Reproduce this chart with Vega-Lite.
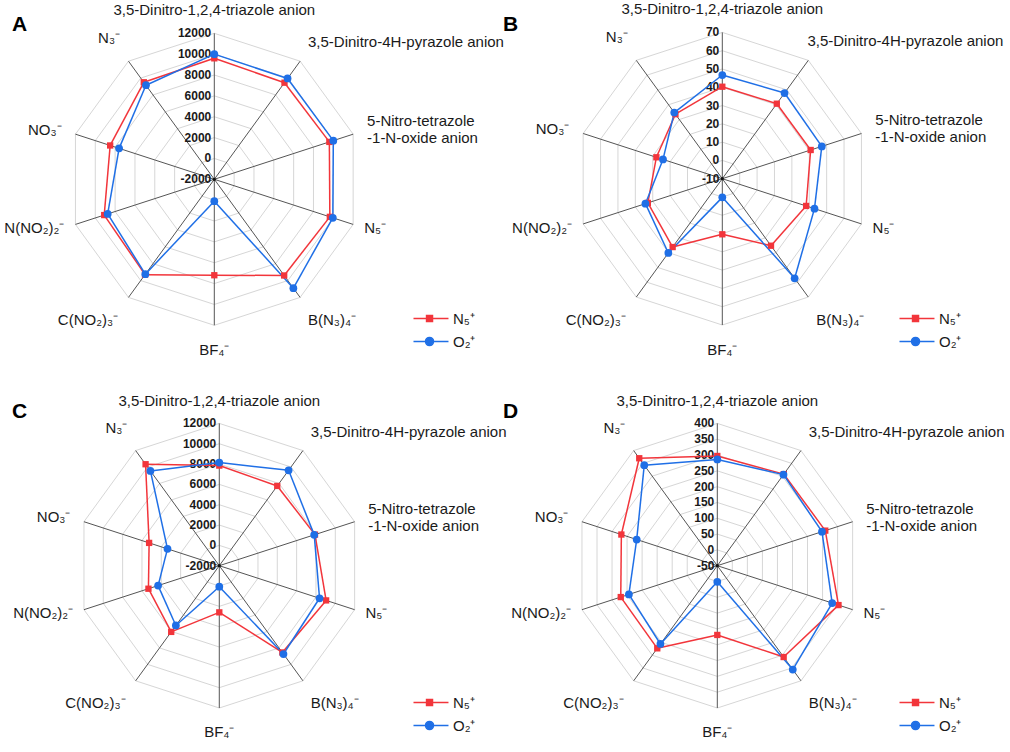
{
"$schema": "https://vega.github.io/schema/vega-lite/v6.json",
"padding": 0,
"autosize": {"type": "pad"},
"spacing": 0,
"bounds": "flush",
"columns": 2,
"config": {"view": {"stroke": null}, "font": "Liberation Sans", "concat": {"spacing": 0}},
"resolve": {"scale": {"fill": "independent", "stroke": "independent", "shape": "independent"}, "legend": {"fill": "independent", "stroke": "independent", "shape": "independent"}},
"datasets": {
"anions": [
{"key": "tri", "lab": "3,5-Dinitro-1,2,4-triazole anion"},
{"key": "pyr", "lab": "3,5-Dinitro-4H-pyrazole anion"},
{"key": "tet", "lab": "5-Nitro-tetrazole\n-1-N-oxide anion"},
{"key": "N5", "lab": "N₅⁻"},
{"key": "BN3", "lab": "B(N₃)₄⁻"},
{"key": "BF4", "lab": "BF₄⁻"},
{"key": "CNO", "lab": "C(NO₂)₃⁻"},
{"key": "NNO", "lab": "N(NO₂)₂⁻"},
{"key": "NO3", "lab": "NO₃⁻"},
{"key": "N3", "lab": "N₃⁻"}
],
"vals": [
{"panel": "A", "cation": "N₅⁺", "key": "tri", "value": 9600},
{"panel": "A", "cation": "N₅⁺", "key": "pyr", "value": 9450},
{"panel": "A", "cation": "N₅⁺", "key": "tet", "value": 9600},
{"panel": "A", "cation": "N₅⁺", "key": "N5", "value": 9650},
{"panel": "A", "cation": "N₅⁺", "key": "BN3", "value": 9400},
{"panel": "A", "cation": "N₅⁺", "key": "BF4", "value": 7200},
{"panel": "A", "cation": "N₅⁺", "key": "CNO", "value": 9300},
{"panel": "A", "cation": "N₅⁺", "key": "NNO", "value": 9100},
{"panel": "A", "cation": "N₅⁺", "key": "NO3", "value": 8500},
{"panel": "A", "cation": "N₅⁺", "key": "N3", "value": 9500},
{"panel": "A", "cation": "O₂⁺", "key": "tri", "value": 10000},
{"panel": "A", "cation": "O₂⁺", "key": "pyr", "value": 9950},
{"panel": "A", "cation": "O₂⁺", "key": "tet", "value": 10000},
{"panel": "A", "cation": "O₂⁺", "key": "N5", "value": 9950},
{"panel": "A", "cation": "O₂⁺", "key": "BN3", "value": 10900},
{"panel": "A", "cation": "O₂⁺", "key": "BF4", "value": 100},
{"panel": "A", "cation": "O₂⁺", "key": "CNO", "value": 9250},
{"panel": "A", "cation": "O₂⁺", "key": "NNO", "value": 8750},
{"panel": "A", "cation": "O₂⁺", "key": "NO3", "value": 7600},
{"panel": "A", "cation": "O₂⁺", "key": "N3", "value": 9150},
{"panel": "B", "cation": "N₅⁺", "key": "tri", "value": 40.3},
{"panel": "B", "cation": "N₅⁺", "key": "pyr", "value": 40.7},
{"panel": "B", "cation": "N₅⁺", "key": "tet", "value": 40.8},
{"panel": "B", "cation": "N₅⁺", "key": "N5", "value": 38.2},
{"panel": "B", "cation": "N₅⁺", "key": "BN3", "value": 35.3},
{"panel": "B", "cation": "N₅⁺", "key": "BF4", "value": 20.4},
{"panel": "B", "cation": "N₅⁺", "key": "CNO", "value": 36.2},
{"panel": "B", "cation": "N₅⁺", "key": "NNO", "value": 32.8},
{"panel": "B", "cation": "N₅⁺", "key": "NO3", "value": 27.9},
{"panel": "B", "cation": "N₅⁺", "key": "N3", "value": 33.6},
{"panel": "B", "cation": "O₂⁺", "key": "tri", "value": 46.7},
{"panel": "B", "cation": "O₂⁺", "key": "pyr", "value": 47.9},
{"panel": "B", "cation": "O₂⁺", "key": "tet", "value": 47.2},
{"panel": "B", "cation": "O₂⁺", "key": "N5", "value": 43.0},
{"panel": "B", "cation": "O₂⁺", "key": "BN3", "value": 57.3},
{"panel": "B", "cation": "O₂⁺", "key": "BF4", "value": 0.2},
{"panel": "B", "cation": "O₂⁺", "key": "CNO", "value": 40.2},
{"panel": "B", "cation": "O₂⁺", "key": "NNO", "value": 34.2},
{"panel": "B", "cation": "O₂⁺", "key": "NO3", "value": 24.1},
{"panel": "B", "cation": "O₂⁺", "key": "N3", "value": 34.7},
{"panel": "C", "cation": "N₅⁺", "key": "tri", "value": 7850},
{"panel": "C", "cation": "N₅⁺", "key": "pyr", "value": 7700},
{"panel": "C", "cation": "N₅⁺", "key": "tet", "value": 7900},
{"panel": "C", "cation": "N₅⁺", "key": "N5", "value": 9050},
{"panel": "C", "cation": "N₅⁺", "key": "BN3", "value": 8550},
{"panel": "C", "cation": "N₅⁺", "key": "BF4", "value": 2590},
{"panel": "C", "cation": "N₅⁺", "key": "CNO", "value": 6050},
{"panel": "C", "cation": "N₅⁺", "key": "NNO", "value": 5330},
{"panel": "C", "cation": "N₅⁺", "key": "NO3", "value": 5260},
{"panel": "C", "cation": "N₅⁺", "key": "N3", "value": 10340},
{"panel": "C", "cation": "O₂⁺", "key": "tri", "value": 8150},
{"panel": "C", "cation": "O₂⁺", "key": "pyr", "value": 9600},
{"panel": "C", "cation": "O₂⁺", "key": "tet", "value": 7820},
{"panel": "C", "cation": "O₂⁺", "key": "N5", "value": 8370},
{"panel": "C", "cation": "O₂⁺", "key": "BN3", "value": 8740},
{"panel": "C", "cation": "O₂⁺", "key": "BF4", "value": 70},
{"panel": "C", "cation": "O₂⁺", "key": "CNO", "value": 5270},
{"panel": "C", "cation": "O₂⁺", "key": "NNO", "value": 4330},
{"panel": "C", "cation": "O₂⁺", "key": "NO3", "value": 3360},
{"panel": "C", "cation": "O₂⁺", "key": "N3", "value": 9530},
{"panel": "D", "cation": "N₅⁺", "key": "tri", "value": 297},
{"panel": "D", "cation": "N₅⁺", "key": "pyr", "value": 308},
{"panel": "D", "cation": "N₅⁺", "key": "tet", "value": 309},
{"panel": "D", "cation": "N₅⁺", "key": "N5", "value": 353},
{"panel": "D", "cation": "N₅⁺", "key": "BN3", "value": 307},
{"panel": "D", "cation": "N₅⁺", "key": "BF4", "value": 169},
{"panel": "D", "cation": "N₅⁺", "key": "CNO", "value": 273},
{"panel": "D", "cation": "N₅⁺", "key": "NNO", "value": 271},
{"panel": "D", "cation": "N₅⁺", "key": "NO3", "value": 269},
{"panel": "D", "cation": "N₅⁺", "key": "N3", "value": 370},
{"panel": "D", "cation": "O₂⁺", "key": "tri", "value": 286},
{"panel": "D", "cation": "O₂⁺", "key": "pyr", "value": 306},
{"panel": "D", "cation": "O₂⁺", "key": "tet", "value": 298},
{"panel": "D", "cation": "O₂⁺", "key": "N5", "value": 332},
{"panel": "D", "cation": "O₂⁺", "key": "BN3", "value": 356},
{"panel": "D", "cation": "O₂⁺", "key": "BF4", "value": 1},
{"panel": "D", "cation": "O₂⁺", "key": "CNO", "value": 256},
{"panel": "D", "cation": "O₂⁺", "key": "NNO", "value": 244},
{"panel": "D", "cation": "O₂⁺", "key": "NO3", "value": 218},
{"panel": "D", "cation": "O₂⁺", "key": "N3", "value": 343}
]
},
"concat": [
{
"width": 495, "height": 376,
"title": {"text": "A", "anchor": "start", "frame": "group", "orient": "top", "offset": -52, "dx": 12, "fontSize": 21, "fontWeight": "bold", "font": "Liberation Sans", "color": "#000000", "baseline": "alphabetic"},
"encoding": {
"x": {"field": "x", "type": "quantitative", "scale": {"domain": [-1.4678, 1.9226], "nice": false, "zero": false}, "axis": null},
"y": {"field": "y", "type": "quantitative", "scale": {"domain": [-1.3473, 1.2281], "nice": false, "zero": false}, "axis": null}
},
"layer": [
{"data": {"name": "anions"}, "transform": [
{"calculate": "indexof(['tri','pyr','tet','N5','BN3','BF4','CNO','NNO','NO3','N3'], datum.key)", "as": "idx"},
{"calculate": "[0,2000,4000,6000,8000,10000,12000]", "as": "lv"},
{"flatten": ["lv"]},
{"calculate": "(datum.lv+2000)/14000", "as": "f"},
{"calculate": "datum.idx*PI/5", "as": "a"},
{"calculate": "datum.f*sin(datum.a)", "as": "x"},
{"calculate": "datum.f*cos(datum.a)", "as": "y"},
{"calculate": "datum.f*sin(datum.a+PI/5)", "as": "x2"},
{"calculate": "datum.f*cos(datum.a+PI/5)", "as": "y2"}],
"mark": {"type": "rule", "color": "#d6d6d6", "strokeWidth": 1},
"encoding": {"x2": {"field": "x2"}, "y2": {"field": "y2"}}},
{"data": {"name": "anions"}, "transform": [
{"calculate": "indexof(['tri','pyr','tet','N5','BN3','BF4','CNO','NNO','NO3','N3'], datum.key)", "as": "idx"},
{"calculate": "datum.idx*PI/5", "as": "a"},
{"calculate": "sin(datum.a)", "as": "x"},
{"calculate": "cos(datum.a)", "as": "y"},
{"calculate": "0", "as": "z"}],
"mark": {"type": "rule", "color": "#555555", "strokeWidth": 1},
"encoding": {"x2": {"field": "z"}, "y2": {"field": "z"}}},
{"data": {"name": "anions"}, "transform": [
{"filter": "datum.key === 'tri'"},
{"calculate": "0", "as": "x"},
{"calculate": "0", "as": "y"}],
"mark": {"type": "point", "filled": true, "color": "#111111", "size": 10, "opacity": 1},
"encoding": {}},
{"data": {"name": "anions"}, "transform": [
{"filter": "datum.key === 'tri'"},
{"calculate": "[-2000,0,2000,4000,6000,8000,10000,12000]", "as": "lv"},
{"flatten": ["lv"]},
{"calculate": "(datum.lv+2000)/14000", "as": "y"},
{"calculate": "0", "as": "x"},
{"calculate": "toString(datum.lv)", "as": "t"}],
"mark": {"type": "text", "align": "right", "baseline": "middle", "dx": -3, "fontSize": 12, "fontWeight": "bold", "font": "Liberation Sans", "color": "#1a1a1a"},
"encoding": {"text": {"field": "t"}}},
{"data": {"name": "vals"}, "transform": [
{"filter": "datum.panel === 'A'"},
{"calculate": "indexof(['tri','pyr','tet','N5','BN3','BF4','CNO','NNO','NO3','N3'], datum.key)", "as": "idx"},
{"calculate": "(datum.value+2000)/14000", "as": "f"},
{"calculate": "datum.idx*PI/5", "as": "a"},
{"calculate": "datum.f*sin(datum.a)", "as": "x"},
{"calculate": "datum.f*cos(datum.a)", "as": "y"},
{"window": [{"op": "lead", "field": "x", "as": "nx"}, {"op": "lead", "field": "y", "as": "ny"}, {"op": "first_value", "field": "x", "as": "fx"}, {"op": "first_value", "field": "y", "as": "fy"}], "sort": [{"field": "idx"}], "groupby": ["cation"]},
{"calculate": "isValid(datum.nx) ? datum.nx : datum.fx", "as": "x2"},
{"calculate": "isValid(datum.ny) ? datum.ny : datum.fy", "as": "y2"}],
"mark": {"type": "rule", "strokeWidth": 1.5},
"encoding": {"x2": {"field": "x2"}, "y2": {"field": "y2"}, "color": {"condition": {"test": "datum.cation === 'N₅⁺'", "value": "#f2353b"}, "value": "#1f6fe6"}}},
{"data": {"name": "vals"}, "transform": [
{"filter": "datum.panel === 'A'"},
{"calculate": "indexof(['tri','pyr','tet','N5','BN3','BF4','CNO','NNO','NO3','N3'], datum.key)", "as": "idx"},
{"calculate": "(datum.value+2000)/14000", "as": "f"},
{"calculate": "datum.idx*PI/5", "as": "a"},
{"calculate": "datum.f*sin(datum.a)", "as": "x"},
{"calculate": "datum.f*cos(datum.a)", "as": "y"}],
"mark": {"type": "point", "filled": true, "opacity": 1},
"encoding": {
"color": {"condition": {"test": "datum.cation === 'N₅⁺'", "value": "#f2353b"}, "value": "#1f6fe6"},
"shape": {"condition": {"test": "datum.cation === 'N₅⁺'", "value": "square"}, "value": "circle"},
"size": {"condition": {"test": "datum.cation === 'N₅⁺'", "value": 40}, "value": 60}}},
{"data": {"name": "vals"}, "transform": [
{"filter": "false"},
{"calculate": "0", "as": "x"},
{"calculate": "0", "as": "y"}],
"mark": {"type": "point", "filled": true, "opacity": 1, "strokeWidth": 1.5},
"encoding": {
"fill": {"field": "cation", "type": "nominal", "scale": {"domain": ["N₅⁺", "O₂⁺"], "range": ["#f2353b", "#1f6fe6"]}, "legend": {"orient": "none", "legendX": 432, "legendY": 311, "title": null, "padding": 0, "symbolSize": 136, "symbolStrokeWidth": 1.5, "labelFontSize": 15, "labelFont": "Liberation Sans", "labelColor": "#1a1a1a", "rowPadding": 7, "labelOffset": 6}},
"stroke": {"field": "cation", "type": "nominal", "scale": {"domain": ["N₅⁺", "O₂⁺"], "range": ["#f2353b", "#1f6fe6"]}, "legend": {"orient": "none", "legendX": 432, "legendY": 311, "title": null, "padding": 0, "symbolSize": 136, "symbolStrokeWidth": 1.5, "labelFontSize": 15, "labelFont": "Liberation Sans", "labelColor": "#1a1a1a", "rowPadding": 7, "labelOffset": 6}},
"shape": {"field": "cation", "type": "nominal", "scale": {"domain": ["N₅⁺", "O₂⁺"], "range": ["M-4.46,0H1.54M-2.22,-0.51H-1.2V0.51H-2.22Z", "M-4.46,0H1.54M-1.02,0A0.69,0.69 0 1,1 -2.4,0A0.69,0.69 0 1,1 -1.02,0Z"]}, "legend": {"orient": "none", "legendX": 432, "legendY": 311, "title": null, "padding": 0, "symbolSize": 136, "symbolStrokeWidth": 1.5, "labelFontSize": 15, "labelFont": "Liberation Sans", "labelColor": "#1a1a1a", "rowPadding": 7, "labelOffset": 6}}}},
{"data": {"name": "anions"}, "transform": [
{"calculate": "indexof(['tri','pyr','tet','N5','BN3','BF4','CNO','NNO','NO3','N3'], datum.key)", "as": "idx"},
{"filter": "datum.idx >= 1 && datum.idx <= 4"},
{"calculate": "[1.16,1.16,1.10,1.08,1.16,1.17,1.16,1.08,1.10,1.16][datum.idx]", "as": "lr"},
{"calculate": "[0,-0.04,0,0,-0.04,0,0.023,0,0,0.036][datum.idx]", "as": "ox"},
{"calculate": "[0,0,0.058,0,-0.025,0,-0.025,0,0,0.028][datum.idx]", "as": "oy"},
{"calculate": "datum.idx*PI/5", "as": "a"},
{"calculate": "datum.lr*sin(datum.a)+datum.ox", "as": "x"},
{"calculate": "datum.lr*cos(datum.a)+datum.oy", "as": "y"}],
"mark": {"type": "text", "align": "left", "baseline": "middle", "fontSize": 15, "font": "Liberation Sans", "color": "#1a1a1a", "lineBreak": "\n", "lineHeight": 17},
"encoding": {"text": {"field": "lab"}}},
{"data": {"name": "anions"}, "transform": [
{"calculate": "indexof(['tri','pyr','tet','N5','BN3','BF4','CNO','NNO','NO3','N3'], datum.key)", "as": "idx"},
{"filter": "datum.idx === 0 || datum.idx === 5"},
{"calculate": "[1.16,1.16,1.10,1.08,1.16,1.17,1.16,1.08,1.10,1.16][datum.idx]", "as": "lr"},
{"calculate": "datum.idx*PI/5", "as": "a"},
{"calculate": "datum.lr*sin(datum.a)", "as": "x"},
{"calculate": "datum.lr*cos(datum.a)", "as": "y"}],
"mark": {"type": "text", "align": "center", "baseline": "middle", "fontSize": 15, "font": "Liberation Sans", "color": "#1a1a1a"},
"encoding": {"text": {"field": "lab"}}},
{"data": {"name": "anions"}, "transform": [
{"calculate": "indexof(['tri','pyr','tet','N5','BN3','BF4','CNO','NNO','NO3','N3'], datum.key)", "as": "idx"},
{"filter": "datum.idx >= 6"},
{"calculate": "[1.16,1.16,1.10,1.08,1.16,1.17,1.16,1.08,1.10,1.16][datum.idx]", "as": "lr"},
{"calculate": "[0,-0.04,0,0,-0.04,0,0.023,0,0,0.036][datum.idx]", "as": "ox"},
{"calculate": "[0,0,0.058,0,-0.025,0,-0.025,0,0,0.028][datum.idx]", "as": "oy"},
{"calculate": "datum.idx*PI/5", "as": "a"},
{"calculate": "datum.lr*sin(datum.a)+datum.ox", "as": "x"},
{"calculate": "datum.lr*cos(datum.a)+datum.oy", "as": "y"}],
"mark": {"type": "text", "align": "right", "baseline": "middle", "fontSize": 15, "font": "Liberation Sans", "color": "#1a1a1a"},
"encoding": {"text": {"field": "lab"}}}
]
},
{
"width": 515, "height": 376,
"title": {"text": "B", "anchor": "start", "frame": "group", "orient": "top", "offset": -52, "dx": 8, "fontSize": 21, "fontWeight": "bold", "font": "Liberation Sans", "color": "#000000", "baseline": "alphabetic"},
"encoding": {
"x": {"field": "x", "type": "quantitative", "scale": {"domain": [-1.5537, 1.9665], "nice": false, "zero": false}, "axis": null},
"y": {"field": "y", "type": "quantitative", "scale": {"domain": [-1.3486, 1.2215], "nice": false, "zero": false}, "axis": null}
},
"layer": [
{"data": {"name": "anions"}, "transform": [
{"calculate": "indexof(['tri','pyr','tet','N5','BN3','BF4','CNO','NNO','NO3','N3'], datum.key)", "as": "idx"},
{"calculate": "[0,10,20,30,40,50,60,70]", "as": "lv"},
{"flatten": ["lv"]},
{"calculate": "(datum.lv+10)/80", "as": "f"},
{"calculate": "datum.idx*PI/5", "as": "a"},
{"calculate": "datum.f*sin(datum.a)", "as": "x"},
{"calculate": "datum.f*cos(datum.a)", "as": "y"},
{"calculate": "datum.f*sin(datum.a+PI/5)", "as": "x2"},
{"calculate": "datum.f*cos(datum.a+PI/5)", "as": "y2"}],
"mark": {"type": "rule", "color": "#d6d6d6", "strokeWidth": 1},
"encoding": {"x2": {"field": "x2"}, "y2": {"field": "y2"}}},
{"data": {"name": "anions"}, "transform": [
{"calculate": "indexof(['tri','pyr','tet','N5','BN3','BF4','CNO','NNO','NO3','N3'], datum.key)", "as": "idx"},
{"calculate": "datum.idx*PI/5", "as": "a"},
{"calculate": "sin(datum.a)", "as": "x"},
{"calculate": "cos(datum.a)", "as": "y"},
{"calculate": "0", "as": "z"}],
"mark": {"type": "rule", "color": "#555555", "strokeWidth": 1},
"encoding": {"x2": {"field": "z"}, "y2": {"field": "z"}}},
{"data": {"name": "anions"}, "transform": [
{"filter": "datum.key === 'tri'"},
{"calculate": "0", "as": "x"},
{"calculate": "0", "as": "y"}],
"mark": {"type": "point", "filled": true, "color": "#111111", "size": 10, "opacity": 1},
"encoding": {}},
{"data": {"name": "anions"}, "transform": [
{"filter": "datum.key === 'tri'"},
{"calculate": "[-10,0,10,20,30,40,50,60,70]", "as": "lv"},
{"flatten": ["lv"]},
{"calculate": "(datum.lv+10)/80", "as": "y"},
{"calculate": "0", "as": "x"},
{"calculate": "toString(datum.lv)", "as": "t"}],
"mark": {"type": "text", "align": "right", "baseline": "middle", "dx": -3, "fontSize": 12, "fontWeight": "bold", "font": "Liberation Sans", "color": "#1a1a1a"},
"encoding": {"text": {"field": "t"}}},
{"data": {"name": "vals"}, "transform": [
{"filter": "datum.panel === 'B'"},
{"calculate": "indexof(['tri','pyr','tet','N5','BN3','BF4','CNO','NNO','NO3','N3'], datum.key)", "as": "idx"},
{"calculate": "(datum.value+10)/80", "as": "f"},
{"calculate": "datum.idx*PI/5", "as": "a"},
{"calculate": "datum.f*sin(datum.a)", "as": "x"},
{"calculate": "datum.f*cos(datum.a)", "as": "y"},
{"window": [{"op": "lead", "field": "x", "as": "nx"}, {"op": "lead", "field": "y", "as": "ny"}, {"op": "first_value", "field": "x", "as": "fx"}, {"op": "first_value", "field": "y", "as": "fy"}], "sort": [{"field": "idx"}], "groupby": ["cation"]},
{"calculate": "isValid(datum.nx) ? datum.nx : datum.fx", "as": "x2"},
{"calculate": "isValid(datum.ny) ? datum.ny : datum.fy", "as": "y2"}],
"mark": {"type": "rule", "strokeWidth": 1.5},
"encoding": {"x2": {"field": "x2"}, "y2": {"field": "y2"}, "color": {"condition": {"test": "datum.cation === 'N₅⁺'", "value": "#f2353b"}, "value": "#1f6fe6"}}},
{"data": {"name": "vals"}, "transform": [
{"filter": "datum.panel === 'B'"},
{"calculate": "indexof(['tri','pyr','tet','N5','BN3','BF4','CNO','NNO','NO3','N3'], datum.key)", "as": "idx"},
{"calculate": "(datum.value+10)/80", "as": "f"},
{"calculate": "datum.idx*PI/5", "as": "a"},
{"calculate": "datum.f*sin(datum.a)", "as": "x"},
{"calculate": "datum.f*cos(datum.a)", "as": "y"}],
"mark": {"type": "point", "filled": true, "opacity": 1},
"encoding": {
"color": {"condition": {"test": "datum.cation === 'N₅⁺'", "value": "#f2353b"}, "value": "#1f6fe6"},
"shape": {"condition": {"test": "datum.cation === 'N₅⁺'", "value": "square"}, "value": "circle"},
"size": {"condition": {"test": "datum.cation === 'N₅⁺'", "value": 40}, "value": 60}}},
{"data": {"name": "vals"}, "transform": [
{"filter": "false"},
{"calculate": "0", "as": "x"},
{"calculate": "0", "as": "y"}],
"mark": {"type": "point", "filled": true, "opacity": 1, "strokeWidth": 1.5},
"encoding": {
"fill": {"field": "cation", "type": "nominal", "scale": {"domain": ["N₅⁺", "O₂⁺"], "range": ["#f2353b", "#1f6fe6"]}, "legend": {"orient": "none", "legendX": 423, "legendY": 311, "title": null, "padding": 0, "symbolSize": 136, "symbolStrokeWidth": 1.5, "labelFontSize": 15, "labelFont": "Liberation Sans", "labelColor": "#1a1a1a", "rowPadding": 7, "labelOffset": 6}},
"stroke": {"field": "cation", "type": "nominal", "scale": {"domain": ["N₅⁺", "O₂⁺"], "range": ["#f2353b", "#1f6fe6"]}, "legend": {"orient": "none", "legendX": 423, "legendY": 311, "title": null, "padding": 0, "symbolSize": 136, "symbolStrokeWidth": 1.5, "labelFontSize": 15, "labelFont": "Liberation Sans", "labelColor": "#1a1a1a", "rowPadding": 7, "labelOffset": 6}},
"shape": {"field": "cation", "type": "nominal", "scale": {"domain": ["N₅⁺", "O₂⁺"], "range": ["M-4.46,0H1.54M-2.22,-0.51H-1.2V0.51H-2.22Z", "M-4.46,0H1.54M-1.02,0A0.69,0.69 0 1,1 -2.4,0A0.69,0.69 0 1,1 -1.02,0Z"]}, "legend": {"orient": "none", "legendX": 423, "legendY": 311, "title": null, "padding": 0, "symbolSize": 136, "symbolStrokeWidth": 1.5, "labelFontSize": 15, "labelFont": "Liberation Sans", "labelColor": "#1a1a1a", "rowPadding": 7, "labelOffset": 6}}}},
{"data": {"name": "anions"}, "transform": [
{"calculate": "indexof(['tri','pyr','tet','N5','BN3','BF4','CNO','NNO','NO3','N3'], datum.key)", "as": "idx"},
{"filter": "datum.idx >= 1 && datum.idx <= 4"},
{"calculate": "[1.16,1.16,1.10,1.08,1.16,1.17,1.16,1.08,1.10,1.16][datum.idx]", "as": "lr"},
{"calculate": "[0,-0.1,0,0,-0.04,0,0.023,0,0,0.036][datum.idx]", "as": "ox"},
{"calculate": "[0,0,0.058,0,-0.025,0,-0.025,0,0,0.028][datum.idx]", "as": "oy"},
{"calculate": "datum.idx*PI/5", "as": "a"},
{"calculate": "datum.lr*sin(datum.a)+datum.ox", "as": "x"},
{"calculate": "datum.lr*cos(datum.a)+datum.oy", "as": "y"}],
"mark": {"type": "text", "align": "left", "baseline": "middle", "fontSize": 15, "font": "Liberation Sans", "color": "#1a1a1a", "lineBreak": "\n", "lineHeight": 17},
"encoding": {"text": {"field": "lab"}}},
{"data": {"name": "anions"}, "transform": [
{"calculate": "indexof(['tri','pyr','tet','N5','BN3','BF4','CNO','NNO','NO3','N3'], datum.key)", "as": "idx"},
{"filter": "datum.idx === 0 || datum.idx === 5"},
{"calculate": "[1.16,1.16,1.10,1.08,1.16,1.17,1.16,1.08,1.10,1.16][datum.idx]", "as": "lr"},
{"calculate": "datum.idx*PI/5", "as": "a"},
{"calculate": "datum.lr*sin(datum.a)", "as": "x"},
{"calculate": "datum.lr*cos(datum.a)", "as": "y"}],
"mark": {"type": "text", "align": "center", "baseline": "middle", "fontSize": 15, "font": "Liberation Sans", "color": "#1a1a1a"},
"encoding": {"text": {"field": "lab"}}},
{"data": {"name": "anions"}, "transform": [
{"calculate": "indexof(['tri','pyr','tet','N5','BN3','BF4','CNO','NNO','NO3','N3'], datum.key)", "as": "idx"},
{"filter": "datum.idx >= 6"},
{"calculate": "[1.16,1.16,1.10,1.08,1.16,1.17,1.16,1.08,1.10,1.16][datum.idx]", "as": "lr"},
{"calculate": "[0,-0.1,0,0,-0.04,0,0.023,0,0,0.036][datum.idx]", "as": "ox"},
{"calculate": "[0,0,0.058,0,-0.025,0,-0.025,0,0,0.028][datum.idx]", "as": "oy"},
{"calculate": "datum.idx*PI/5", "as": "a"},
{"calculate": "datum.lr*sin(datum.a)+datum.ox", "as": "x"},
{"calculate": "datum.lr*cos(datum.a)+datum.oy", "as": "y"}],
"mark": {"type": "text", "align": "right", "baseline": "middle", "fontSize": 15, "font": "Liberation Sans", "color": "#1a1a1a"},
"encoding": {"text": {"field": "lab"}}}
]
},
{
"width": 495, "height": 376,
"title": {"text": "C", "anchor": "start", "frame": "group", "orient": "top", "offset": -63, "dx": 12, "fontSize": 21, "fontWeight": "bold", "font": "Liberation Sans", "color": "#000000", "baseline": "alphabetic"},
"encoding": {
"x": {"field": "x", "type": "quantitative", "scale": {"domain": [-1.5411, 1.9375], "nice": false, "zero": false}, "axis": null},
"y": {"field": "y", "type": "quantitative", "scale": {"domain": [-1.3092, 1.3331], "nice": false, "zero": false}, "axis": null}
},
"layer": [
{"data": {"name": "anions"}, "transform": [
{"calculate": "indexof(['tri','pyr','tet','N5','BN3','BF4','CNO','NNO','NO3','N3'], datum.key)", "as": "idx"},
{"calculate": "[0,2000,4000,6000,8000,10000,12000]", "as": "lv"},
{"flatten": ["lv"]},
{"calculate": "(datum.lv+2000)/14000", "as": "f"},
{"calculate": "datum.idx*PI/5", "as": "a"},
{"calculate": "datum.f*sin(datum.a)", "as": "x"},
{"calculate": "datum.f*cos(datum.a)", "as": "y"},
{"calculate": "datum.f*sin(datum.a+PI/5)", "as": "x2"},
{"calculate": "datum.f*cos(datum.a+PI/5)", "as": "y2"}],
"mark": {"type": "rule", "color": "#d6d6d6", "strokeWidth": 1},
"encoding": {"x2": {"field": "x2"}, "y2": {"field": "y2"}}},
{"data": {"name": "anions"}, "transform": [
{"calculate": "indexof(['tri','pyr','tet','N5','BN3','BF4','CNO','NNO','NO3','N3'], datum.key)", "as": "idx"},
{"calculate": "datum.idx*PI/5", "as": "a"},
{"calculate": "sin(datum.a)", "as": "x"},
{"calculate": "cos(datum.a)", "as": "y"},
{"calculate": "0", "as": "z"}],
"mark": {"type": "rule", "color": "#555555", "strokeWidth": 1},
"encoding": {"x2": {"field": "z"}, "y2": {"field": "z"}}},
{"data": {"name": "anions"}, "transform": [
{"filter": "datum.key === 'tri'"},
{"calculate": "0", "as": "x"},
{"calculate": "0", "as": "y"}],
"mark": {"type": "point", "filled": true, "color": "#111111", "size": 10, "opacity": 1},
"encoding": {}},
{"data": {"name": "anions"}, "transform": [
{"filter": "datum.key === 'tri'"},
{"calculate": "[-2000,0,2000,4000,6000,8000,10000,12000]", "as": "lv"},
{"flatten": ["lv"]},
{"calculate": "(datum.lv+2000)/14000", "as": "y"},
{"calculate": "0", "as": "x"},
{"calculate": "toString(datum.lv)", "as": "t"}],
"mark": {"type": "text", "align": "right", "baseline": "middle", "dx": -3, "fontSize": 12, "fontWeight": "bold", "font": "Liberation Sans", "color": "#1a1a1a"},
"encoding": {"text": {"field": "t"}}},
{"data": {"name": "vals"}, "transform": [
{"filter": "datum.panel === 'C'"},
{"calculate": "indexof(['tri','pyr','tet','N5','BN3','BF4','CNO','NNO','NO3','N3'], datum.key)", "as": "idx"},
{"calculate": "(datum.value+2000)/14000", "as": "f"},
{"calculate": "datum.idx*PI/5", "as": "a"},
{"calculate": "datum.f*sin(datum.a)", "as": "x"},
{"calculate": "datum.f*cos(datum.a)", "as": "y"},
{"window": [{"op": "lead", "field": "x", "as": "nx"}, {"op": "lead", "field": "y", "as": "ny"}, {"op": "first_value", "field": "x", "as": "fx"}, {"op": "first_value", "field": "y", "as": "fy"}], "sort": [{"field": "idx"}], "groupby": ["cation"]},
{"calculate": "isValid(datum.nx) ? datum.nx : datum.fx", "as": "x2"},
{"calculate": "isValid(datum.ny) ? datum.ny : datum.fy", "as": "y2"}],
"mark": {"type": "rule", "strokeWidth": 1.5},
"encoding": {"x2": {"field": "x2"}, "y2": {"field": "y2"}, "color": {"condition": {"test": "datum.cation === 'N₅⁺'", "value": "#f2353b"}, "value": "#1f6fe6"}}},
{"data": {"name": "vals"}, "transform": [
{"filter": "datum.panel === 'C'"},
{"calculate": "indexof(['tri','pyr','tet','N5','BN3','BF4','CNO','NNO','NO3','N3'], datum.key)", "as": "idx"},
{"calculate": "(datum.value+2000)/14000", "as": "f"},
{"calculate": "datum.idx*PI/5", "as": "a"},
{"calculate": "datum.f*sin(datum.a)", "as": "x"},
{"calculate": "datum.f*cos(datum.a)", "as": "y"}],
"mark": {"type": "point", "filled": true, "opacity": 1},
"encoding": {
"color": {"condition": {"test": "datum.cation === 'N₅⁺'", "value": "#f2353b"}, "value": "#1f6fe6"},
"shape": {"condition": {"test": "datum.cation === 'N₅⁺'", "value": "square"}, "value": "circle"},
"size": {"condition": {"test": "datum.cation === 'N₅⁺'", "value": 40}, "value": 60}}},
{"data": {"name": "vals"}, "transform": [
{"filter": "false"},
{"calculate": "0", "as": "x"},
{"calculate": "0", "as": "y"}],
"mark": {"type": "point", "filled": true, "opacity": 1, "strokeWidth": 1.5},
"encoding": {
"fill": {"field": "cation", "type": "nominal", "scale": {"domain": ["N₅⁺", "O₂⁺"], "range": ["#f2353b", "#1f6fe6"]}, "legend": {"orient": "none", "legendX": 432, "legendY": 319, "title": null, "padding": 0, "symbolSize": 136, "symbolStrokeWidth": 1.5, "labelFontSize": 15, "labelFont": "Liberation Sans", "labelColor": "#1a1a1a", "rowPadding": 7, "labelOffset": 6}},
"stroke": {"field": "cation", "type": "nominal", "scale": {"domain": ["N₅⁺", "O₂⁺"], "range": ["#f2353b", "#1f6fe6"]}, "legend": {"orient": "none", "legendX": 432, "legendY": 319, "title": null, "padding": 0, "symbolSize": 136, "symbolStrokeWidth": 1.5, "labelFontSize": 15, "labelFont": "Liberation Sans", "labelColor": "#1a1a1a", "rowPadding": 7, "labelOffset": 6}},
"shape": {"field": "cation", "type": "nominal", "scale": {"domain": ["N₅⁺", "O₂⁺"], "range": ["M-4.46,0H1.54M-2.22,-0.51H-1.2V0.51H-2.22Z", "M-4.46,0H1.54M-1.02,0A0.69,0.69 0 1,1 -2.4,0A0.69,0.69 0 1,1 -1.02,0Z"]}, "legend": {"orient": "none", "legendX": 432, "legendY": 319, "title": null, "padding": 0, "symbolSize": 136, "symbolStrokeWidth": 1.5, "labelFontSize": 15, "labelFont": "Liberation Sans", "labelColor": "#1a1a1a", "rowPadding": 7, "labelOffset": 6}}}},
{"data": {"name": "anions"}, "transform": [
{"calculate": "indexof(['tri','pyr','tet','N5','BN3','BF4','CNO','NNO','NO3','N3'], datum.key)", "as": "idx"},
{"filter": "datum.idx >= 1 && datum.idx <= 4"},
{"calculate": "[1.16,1.16,1.10,1.08,1.16,1.17,1.16,1.08,1.10,1.16][datum.idx]", "as": "lr"},
{"calculate": "[0,-0.04,0,0,-0.04,0,0.023,0,0,0.036][datum.idx]", "as": "ox"},
{"calculate": "[0,0,0.058,0,-0.025,0,-0.025,0,0,0.028][datum.idx]", "as": "oy"},
{"calculate": "datum.idx*PI/5", "as": "a"},
{"calculate": "datum.lr*sin(datum.a)+datum.ox", "as": "x"},
{"calculate": "datum.lr*cos(datum.a)+datum.oy", "as": "y"}],
"mark": {"type": "text", "align": "left", "baseline": "middle", "fontSize": 15, "font": "Liberation Sans", "color": "#1a1a1a", "lineBreak": "\n", "lineHeight": 17},
"encoding": {"text": {"field": "lab"}}},
{"data": {"name": "anions"}, "transform": [
{"calculate": "indexof(['tri','pyr','tet','N5','BN3','BF4','CNO','NNO','NO3','N3'], datum.key)", "as": "idx"},
{"filter": "datum.idx === 0 || datum.idx === 5"},
{"calculate": "[1.16,1.16,1.10,1.08,1.16,1.17,1.16,1.08,1.10,1.16][datum.idx]", "as": "lr"},
{"calculate": "datum.idx*PI/5", "as": "a"},
{"calculate": "datum.lr*sin(datum.a)", "as": "x"},
{"calculate": "datum.lr*cos(datum.a)", "as": "y"}],
"mark": {"type": "text", "align": "center", "baseline": "middle", "fontSize": 15, "font": "Liberation Sans", "color": "#1a1a1a"},
"encoding": {"text": {"field": "lab"}}},
{"data": {"name": "anions"}, "transform": [
{"calculate": "indexof(['tri','pyr','tet','N5','BN3','BF4','CNO','NNO','NO3','N3'], datum.key)", "as": "idx"},
{"filter": "datum.idx >= 6"},
{"calculate": "[1.16,1.16,1.10,1.08,1.16,1.17,1.16,1.08,1.10,1.16][datum.idx]", "as": "lr"},
{"calculate": "[0,-0.04,0,0,-0.04,0,0.023,0,0,0.036][datum.idx]", "as": "ox"},
{"calculate": "[0,0,0.058,0,-0.025,0,-0.025,0,0,0.028][datum.idx]", "as": "oy"},
{"calculate": "datum.idx*PI/5", "as": "a"},
{"calculate": "datum.lr*sin(datum.a)+datum.ox", "as": "x"},
{"calculate": "datum.lr*cos(datum.a)+datum.oy", "as": "y"}],
"mark": {"type": "text", "align": "right", "baseline": "middle", "fontSize": 15, "font": "Liberation Sans", "color": "#1a1a1a"},
"encoding": {"text": {"field": "lab"}}}
]
},
{
"width": 515, "height": 376,
"title": {"text": "D", "anchor": "start", "frame": "group", "orient": "top", "offset": -63, "dx": 8, "fontSize": 21, "fontWeight": "bold", "font": "Liberation Sans", "color": "#000000", "baseline": "alphabetic"},
"encoding": {
"x": {"field": "x", "type": "quantitative", "scale": {"domain": [-1.5622, 2.0569], "nice": false, "zero": false}, "axis": null},
"y": {"field": "y", "type": "quantitative", "scale": {"domain": [-1.3092, 1.3331], "nice": false, "zero": false}, "axis": null}
},
"layer": [
{"data": {"name": "anions"}, "transform": [
{"calculate": "indexof(['tri','pyr','tet','N5','BN3','BF4','CNO','NNO','NO3','N3'], datum.key)", "as": "idx"},
{"calculate": "[0,50,100,150,200,250,300,350,400]", "as": "lv"},
{"flatten": ["lv"]},
{"calculate": "(datum.lv+50)/450", "as": "f"},
{"calculate": "datum.idx*PI/5", "as": "a"},
{"calculate": "datum.f*sin(datum.a)", "as": "x"},
{"calculate": "datum.f*cos(datum.a)", "as": "y"},
{"calculate": "datum.f*sin(datum.a+PI/5)", "as": "x2"},
{"calculate": "datum.f*cos(datum.a+PI/5)", "as": "y2"}],
"mark": {"type": "rule", "color": "#d6d6d6", "strokeWidth": 1},
"encoding": {"x2": {"field": "x2"}, "y2": {"field": "y2"}}},
{"data": {"name": "anions"}, "transform": [
{"calculate": "indexof(['tri','pyr','tet','N5','BN3','BF4','CNO','NNO','NO3','N3'], datum.key)", "as": "idx"},
{"calculate": "datum.idx*PI/5", "as": "a"},
{"calculate": "sin(datum.a)", "as": "x"},
{"calculate": "cos(datum.a)", "as": "y"},
{"calculate": "0", "as": "z"}],
"mark": {"type": "rule", "color": "#555555", "strokeWidth": 1},
"encoding": {"x2": {"field": "z"}, "y2": {"field": "z"}}},
{"data": {"name": "anions"}, "transform": [
{"filter": "datum.key === 'tri'"},
{"calculate": "0", "as": "x"},
{"calculate": "0", "as": "y"}],
"mark": {"type": "point", "filled": true, "color": "#111111", "size": 10, "opacity": 1},
"encoding": {}},
{"data": {"name": "anions"}, "transform": [
{"filter": "datum.key === 'tri'"},
{"calculate": "[-50,0,50,100,150,200,250,300,350,400]", "as": "lv"},
{"flatten": ["lv"]},
{"calculate": "(datum.lv+50)/450", "as": "y"},
{"calculate": "0", "as": "x"},
{"calculate": "toString(datum.lv)", "as": "t"}],
"mark": {"type": "text", "align": "right", "baseline": "middle", "dx": -3, "fontSize": 12, "fontWeight": "bold", "font": "Liberation Sans", "color": "#1a1a1a"},
"encoding": {"text": {"field": "t"}}},
{"data": {"name": "vals"}, "transform": [
{"filter": "datum.panel === 'D'"},
{"calculate": "indexof(['tri','pyr','tet','N5','BN3','BF4','CNO','NNO','NO3','N3'], datum.key)", "as": "idx"},
{"calculate": "(datum.value+50)/450", "as": "f"},
{"calculate": "datum.idx*PI/5", "as": "a"},
{"calculate": "datum.f*sin(datum.a)", "as": "x"},
{"calculate": "datum.f*cos(datum.a)", "as": "y"},
{"window": [{"op": "lead", "field": "x", "as": "nx"}, {"op": "lead", "field": "y", "as": "ny"}, {"op": "first_value", "field": "x", "as": "fx"}, {"op": "first_value", "field": "y", "as": "fy"}], "sort": [{"field": "idx"}], "groupby": ["cation"]},
{"calculate": "isValid(datum.nx) ? datum.nx : datum.fx", "as": "x2"},
{"calculate": "isValid(datum.ny) ? datum.ny : datum.fy", "as": "y2"}],
"mark": {"type": "rule", "strokeWidth": 1.5},
"encoding": {"x2": {"field": "x2"}, "y2": {"field": "y2"}, "color": {"condition": {"test": "datum.cation === 'N₅⁺'", "value": "#f2353b"}, "value": "#1f6fe6"}}},
{"data": {"name": "vals"}, "transform": [
{"filter": "datum.panel === 'D'"},
{"calculate": "indexof(['tri','pyr','tet','N5','BN3','BF4','CNO','NNO','NO3','N3'], datum.key)", "as": "idx"},
{"calculate": "(datum.value+50)/450", "as": "f"},
{"calculate": "datum.idx*PI/5", "as": "a"},
{"calculate": "datum.f*sin(datum.a)", "as": "x"},
{"calculate": "datum.f*cos(datum.a)", "as": "y"}],
"mark": {"type": "point", "filled": true, "opacity": 1},
"encoding": {
"color": {"condition": {"test": "datum.cation === 'N₅⁺'", "value": "#f2353b"}, "value": "#1f6fe6"},
"shape": {"condition": {"test": "datum.cation === 'N₅⁺'", "value": "square"}, "value": "circle"},
"size": {"condition": {"test": "datum.cation === 'N₅⁺'", "value": 40}, "value": 60}}},
{"data": {"name": "vals"}, "transform": [
{"filter": "false"},
{"calculate": "0", "as": "x"},
{"calculate": "0", "as": "y"}],
"mark": {"type": "point", "filled": true, "opacity": 1, "strokeWidth": 1.5},
"encoding": {
"fill": {"field": "cation", "type": "nominal", "scale": {"domain": ["N₅⁺", "O₂⁺"], "range": ["#f2353b", "#1f6fe6"]}, "legend": {"orient": "none", "legendX": 423, "legendY": 319, "title": null, "padding": 0, "symbolSize": 136, "symbolStrokeWidth": 1.5, "labelFontSize": 15, "labelFont": "Liberation Sans", "labelColor": "#1a1a1a", "rowPadding": 7, "labelOffset": 6}},
"stroke": {"field": "cation", "type": "nominal", "scale": {"domain": ["N₅⁺", "O₂⁺"], "range": ["#f2353b", "#1f6fe6"]}, "legend": {"orient": "none", "legendX": 423, "legendY": 319, "title": null, "padding": 0, "symbolSize": 136, "symbolStrokeWidth": 1.5, "labelFontSize": 15, "labelFont": "Liberation Sans", "labelColor": "#1a1a1a", "rowPadding": 7, "labelOffset": 6}},
"shape": {"field": "cation", "type": "nominal", "scale": {"domain": ["N₅⁺", "O₂⁺"], "range": ["M-4.46,0H1.54M-2.22,-0.51H-1.2V0.51H-2.22Z", "M-4.46,0H1.54M-1.02,0A0.69,0.69 0 1,1 -2.4,0A0.69,0.69 0 1,1 -1.02,0Z"]}, "legend": {"orient": "none", "legendX": 423, "legendY": 319, "title": null, "padding": 0, "symbolSize": 136, "symbolStrokeWidth": 1.5, "labelFontSize": 15, "labelFont": "Liberation Sans", "labelColor": "#1a1a1a", "rowPadding": 7, "labelOffset": 6}}}},
{"data": {"name": "anions"}, "transform": [
{"calculate": "indexof(['tri','pyr','tet','N5','BN3','BF4','CNO','NNO','NO3','N3'], datum.key)", "as": "idx"},
{"filter": "datum.idx >= 1 && datum.idx <= 4"},
{"calculate": "[1.16,1.16,1.10,1.08,1.16,1.17,1.16,1.08,1.10,1.16][datum.idx]", "as": "lr"},
{"calculate": "[0,-0.04,0,0,-0.04,0,0.023,0,0,0.036][datum.idx]", "as": "ox"},
{"calculate": "[0,0,0.058,0,-0.025,0,-0.025,0,0,0.028][datum.idx]", "as": "oy"},
{"calculate": "datum.idx*PI/5", "as": "a"},
{"calculate": "datum.lr*sin(datum.a)+datum.ox", "as": "x"},
{"calculate": "datum.lr*cos(datum.a)+datum.oy", "as": "y"}],
"mark": {"type": "text", "align": "left", "baseline": "middle", "fontSize": 15, "font": "Liberation Sans", "color": "#1a1a1a", "lineBreak": "\n", "lineHeight": 17},
"encoding": {"text": {"field": "lab"}}},
{"data": {"name": "anions"}, "transform": [
{"calculate": "indexof(['tri','pyr','tet','N5','BN3','BF4','CNO','NNO','NO3','N3'], datum.key)", "as": "idx"},
{"filter": "datum.idx === 0 || datum.idx === 5"},
{"calculate": "[1.16,1.16,1.10,1.08,1.16,1.17,1.16,1.08,1.10,1.16][datum.idx]", "as": "lr"},
{"calculate": "datum.idx*PI/5", "as": "a"},
{"calculate": "datum.lr*sin(datum.a)", "as": "x"},
{"calculate": "datum.lr*cos(datum.a)", "as": "y"}],
"mark": {"type": "text", "align": "center", "baseline": "middle", "fontSize": 15, "font": "Liberation Sans", "color": "#1a1a1a"},
"encoding": {"text": {"field": "lab"}}},
{"data": {"name": "anions"}, "transform": [
{"calculate": "indexof(['tri','pyr','tet','N5','BN3','BF4','CNO','NNO','NO3','N3'], datum.key)", "as": "idx"},
{"filter": "datum.idx >= 6"},
{"calculate": "[1.16,1.16,1.10,1.08,1.16,1.17,1.16,1.08,1.10,1.16][datum.idx]", "as": "lr"},
{"calculate": "[0,-0.04,0,0,-0.04,0,0.023,0,0,0.036][datum.idx]", "as": "ox"},
{"calculate": "[0,0,0.058,0,-0.025,0,-0.025,0,0,0.028][datum.idx]", "as": "oy"},
{"calculate": "datum.idx*PI/5", "as": "a"},
{"calculate": "datum.lr*sin(datum.a)+datum.ox", "as": "x"},
{"calculate": "datum.lr*cos(datum.a)+datum.oy", "as": "y"}],
"mark": {"type": "text", "align": "right", "baseline": "middle", "fontSize": 15, "font": "Liberation Sans", "color": "#1a1a1a"},
"encoding": {"text": {"field": "lab"}}}
]
}
]
}
